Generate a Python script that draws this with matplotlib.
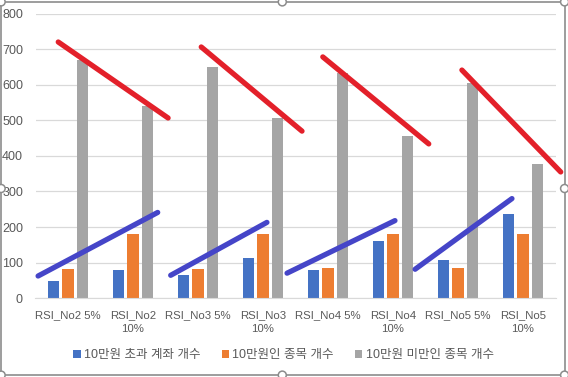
import numpy as np
import matplotlib.pyplot as plt
from matplotlib.patches import Rectangle, Circle

plt.rcParams['font.family'] = ['Liberation Sans', 'Noto Sans CJK KR', 'DejaVu Sans']

categories = ["RSI_No2 5%", "RSI_No2\n10%", "RSI_No3 5%", "RSI_No3\n10%",
              "RSI_No4 5%", "RSI_No4\n10%", "RSI_No5 5%", "RSI_No5\n10%"]
series_names = ["10만원 초과 계좌 개수", "10만원인 종목 개수", "10만원 미만인 종목 개수"]
over_10 = [48, 78, 64, 112, 78, 160, 106, 238]
eq_10 = [81, 179, 81, 180, 84, 180, 84, 180]
under_10 = [670, 541, 651, 507, 634, 456, 606, 377]
colors = ["#4472C4", "#ED7D31", "#A5A5A5"]

# hand drawn trend marks (category position, value)
red_x = [(-0.15, 1.54), (2.05, 3.6), (3.92, 5.55), (6.06, 7.58)]
red_y = [(721, 507), (707, 470), (679, 434), (642, 355)]
blue_x = [(-0.46, 1.38), (1.58, 3.06), (3.37, 5.03), (5.34, 6.83)]
blue_y = [(62, 241), (64, 213), (70, 218), (81, 280)]

fig = plt.figure(figsize=(5.68, 3.77), dpi=100)
ax = fig.add_axes([0.0625, 0.2095, 0.9155, 0.7535])

x = np.arange(len(categories))
w = 0.17
step = 0.22
for i, vals in enumerate([over_10, eq_10, under_10]):
    ax.bar(x + (i - 1) * step, vals, w, color=colors[i], label=series_names[i], zorder=2)

for xs, ys in zip(red_x, red_y):
    ax.plot(xs, ys, color="#E3202A", lw=3.8, solid_capstyle="round", zorder=5, clip_on=False)
for xs, ys in zip(blue_x, blue_y):
    ax.plot(xs, ys, color="#4545C8", lw=3.8, solid_capstyle="round", zorder=5, clip_on=False)

ax.set_xlim(-0.5, 7.5)
ax.set_ylim(0, 800)
ax.set_yticks(range(0, 801, 100))
ax.set_xticks(x)
ax.set_xticklabels(categories, fontsize=8.2, color="#595959", linespacing=1.45)
ax.tick_params(axis="y", labelsize=9, colors="#595959", length=0, pad=9)
ax.tick_params(axis="x", length=0, pad=9)
ax.grid(axis="y", color="#D9D9D9", lw=0.9, zorder=0)
for s in ["top", "right", "left"]:
    ax.spines[s].set_visible(False)
ax.spines["bottom"].set_color("#D9D9D9")

leg = fig.legend(loc="center", bbox_to_anchor=(0.499, 0.058), ncol=3, frameon=False,
                 fontsize=9, handlelength=0.6, handleheight=0.6, handletextpad=0.25,
                 columnspacing=1.7)
for t in leg.get_texts():
    t.set_color("#595959")

# chart selection frame
fig.patches.append(Rectangle((0.002, 0.005), 0.992, 0.99, transform=fig.transFigure,
                             fill=False, ec="#8C8C8C", lw=1.2))
for cx, cy in [(0.002, 0.995), (0.497, 0.995), (0.994, 0.995), (0.002, 0.5),
               (0.994, 0.5), (0.002, 0.005), (0.497, 0.005), (0.994, 0.005)]:
    fig.patches.append(Circle((cx * 568, cy * 377), 4, transform=None,
                              fc="white", ec="#8C8C8C", lw=1.1))

fig.savefig("out.png", dpi=100)
